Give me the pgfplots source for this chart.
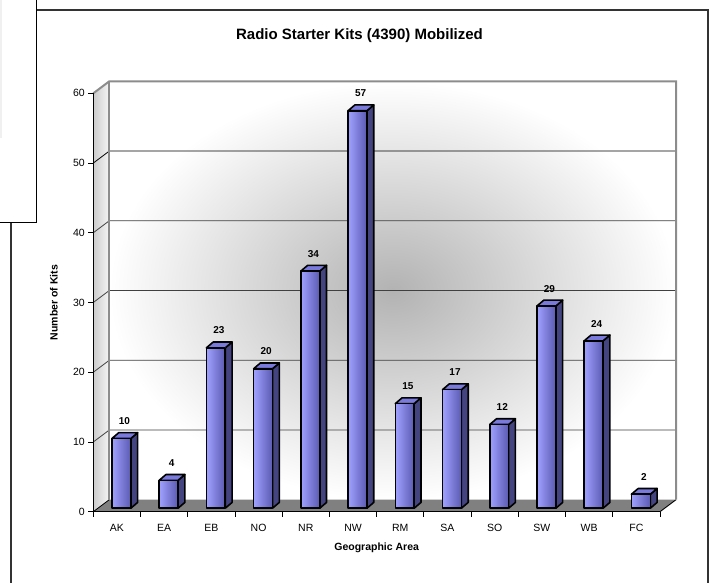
\documentclass[border=0pt]{standalone}
\usepackage{pgfplots}
\pgfplotsset{compat=1.18}
\usepackage{pgfplotstable}
\usepackage{fontspec}
\setmainfont{Liberation Sans}

\definecolor{barL}{RGB}{160,160,255}
\definecolor{barR}{RGB}{90,90,178}
\definecolor{barTop}{RGB}{122,122,220}
\definecolor{barSide}{RGB}{68,68,128}
\definecolor{wallEdge}{RGB}{140,140,140}
\definecolor{floorGray}{RGB}{128,128,128}

% kits per geographic area
\pgfplotstableread{
idx area n
0  AK 10
1  EA 4
2  EB 23
3  NO 20
4  NR 34
5  NW 57
6  RM 15
7  SA 17
8  SO 12
9  SW 29
10 WB 24
11 FC 2
}\kits

\begin{document}
\begin{tikzpicture}
\useasboundingbox (0pt,0pt) rectangle (713pt,583pt);

% outer frame
\draw[black!80, line width=1.5pt] (11pt,-5pt) -- (11pt,573pt) -- (708pt,573pt) -- (708pt,-5pt);
% the box overlapping the top left corner
\fill[white] (-5pt,361pt) rectangle (36pt,588pt);
\fill[gray!12] (-5pt,445pt) rectangle (1.5pt,588pt);
\draw[line width=0.8pt] (-5pt,361pt) -- (36pt,361pt) -- (36pt,588pt);

\node[font=\bfseries\fontsize{15}{18}\selectfont] at (359.5pt,547.5pt) {Radio Starter Kits (4390) Mobilized};

\begin{axis}[
    at={(93.3pt,71.3pt)}, anchor=south west,
    scale only axis,
    width=566.7pt, height=418.4pt,
    xmin=0, xmax=12, ymin=0, ymax=60,
    clip=false,
    axis on top,
    axis lines*=left,
    axis line style={black, line width=0.9pt},
    xtick={0.5,1.5,...,11.5},
    xticklabels={AK,EA,EB,NO,NR,NW,RM,SA,SO,SW,WB,FC},
    major x tick style={draw=none},
    minor xtick={0,1,...,12},
    minor tick length=5pt,
    ytick={0,10,...,60},
    major tick length=5pt,
    tick align=outside,
    tick style={black, line width=0.8pt},
    ticklabel style={font=\fontsize{10.5}{12}\selectfont},
    xticklabel style={yshift=-4pt},
    /pgf/number format/assume math mode=true,
    xlabel={Geographic Area},
    ylabel={Number of Kits},
    label style={font=\bfseries\fontsize{10.5}{12}\selectfont},
    xlabel style={at={(axis description cs:0.5,-0.0868)}, anchor=center},
    ylabel style={at={(axis description cs:-0.0694,0.5)}, anchor=center},
]

% back wall, left wall and floor
\addplot[draw=none, inner color=black!30, outer color=white]
    coordinates {(0.339,1.72) (12.339,1.72) (12.339,61.72) (0.339,61.72)} -- cycle;
\addplot[draw=none, left color=gray!40, right color=gray!8]
    coordinates {(0,0) (0.339,1.72) (0.339,61.72) (0,60)} -- cycle;
\addplot[fill=floorGray, draw=none]
    coordinates {(0,0) (12,0) (12.339,1.72) (0.339,1.72)} -- cycle;

% grid lines on the walls
\addplot[black!75, line width=0.8pt] coordinates {(0,10) (0.339,11.72) (12.339,11.72)};
\addplot[black!75, line width=0.8pt] coordinates {(0,20) (0.339,21.72) (12.339,21.72)};
\addplot[black!75, line width=0.8pt] coordinates {(0,30) (0.339,31.72) (12.339,31.72)};
\addplot[black!75, line width=0.8pt] coordinates {(0,40) (0.339,41.72) (12.339,41.72)};
\addplot[black, line width=0.8pt] coordinates {(0,50) (0.339,51.72) (12.339,51.72)};
\addplot[black, line width=0.8pt] coordinates {(0,0) (0.339,1.72)};
\addplot[black, line width=0.9pt] coordinates {(12,0) (12.339,1.72)};
\addplot[wallEdge, line width=2pt]
    coordinates {(0,60) (0.339,61.72) (12.339,61.72) (12.339,1.72)};
\addplot[wallEdge, line width=2pt] coordinates {(0.339,1.72) (0.339,61.72)};

% 3d bars
\pgfplotsinvokeforeach{0,...,11}{
    \pgfplotstablegetelem{#1}{n}\of\kits
    \pgfmathsetmacro\xl{#1+0.395}
    \pgfmathsetmacro\xr{#1+0.795}
    \pgfmathsetmacro\xlb{#1+0.539}
    \pgfmathsetmacro\xrb{#1+0.939}
    \pgfmathsetmacro\yt{\pgfplotsretval+0.5}
    \pgfmathsetmacro\ytb{\pgfplotsretval+1.33}
    \edef\drawbar{%
        \noexpand\addplot[draw=black, line width=1.6pt, line join=round, fill=barSide]
            coordinates {(\xr,0.5) (\xrb,1.33) (\xrb,\ytb) (\xr,\yt)} -- cycle;
        \noexpand\addplot[draw=black, line width=1.6pt, line join=round, fill=barTop]
            coordinates {(\xl,\yt) (\xr,\yt) (\xrb,\ytb) (\xlb,\ytb)} -- cycle;
        \noexpand\addplot[draw=black, line width=1.6pt, line join=round, left color=barL, right color=barR]
            coordinates {(\xl,0.5) (\xr,0.5) (\xr,\yt) (\xl,\yt)} -- cycle;
    }
    \drawbar
}

% value labels
\addplot[draw=none, mark=none, nodes near coords, point meta=explicit symbolic,
    nodes near coords style={font=\bfseries\fontsize{10}{12}\selectfont, anchor=south, yshift=4.5pt}]
    table[x expr=\thisrow{idx}+0.66, y expr=\thisrow{n}+1.33, meta=n] {\kits};

\end{axis}
\end{tikzpicture}
\end{document}
